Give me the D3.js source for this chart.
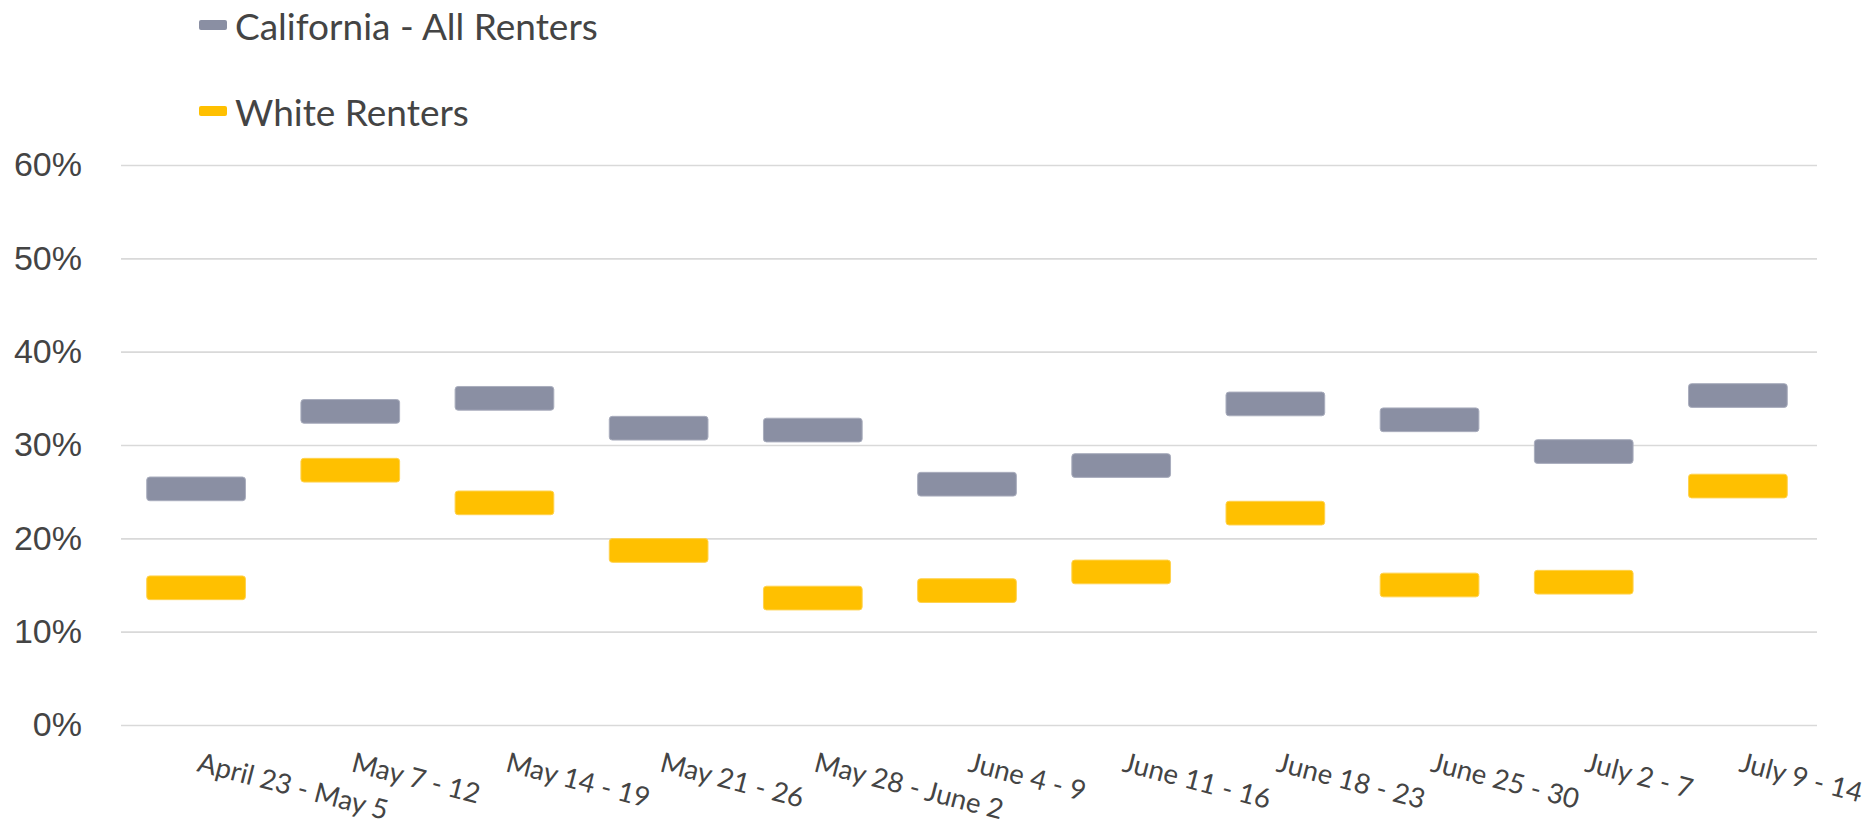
<!DOCTYPE html>
<html>
<head>
<meta charset="utf-8">
<script src="https://cdn.jsdelivr.net/npm/d3@7"></script>
<style>
  body { margin: 0; background: #fff; }
  svg { display: block; font-family: Lato, "Open Sans", sans-serif; }
</style>
</head>
<body>
<svg id="chart"></svg>
<script>
// Weeks (x categories)
const weeks = [
  "April 23 - May 5", "May 7 - 12", "May 14 - 19", "May 21 - 26", "May 28 - June 2",
  "June 4 - 9", "June 11 - 16", "June 18 - 23", "June 25 - 30", "July 2 - 7", "July 9 - 14"
];

// Series values (share of renters)
const allRenters = [0.253, 0.336, 0.350, 0.318, 0.316, 0.258, 0.278, 0.344, 0.327, 0.293, 0.353];
const whiteRenters = [0.147, 0.273, 0.238, 0.187, 0.136, 0.144, 0.164, 0.227, 0.150, 0.153, 0.256];

const yTicks = [0, 0.1, 0.2, 0.3, 0.4, 0.5, 0.6];

const series = [
  { name: "California - All Renters", values: allRenters, fill: "#8a8fa3", edge: "#a9adbd" },
  { name: "White Renters", values: whiteRenters, fill: "#ffc000", edge: "#ffd24d" }
];

const width = 1868, height = 826;
const margin = { top: 165, right: 51, bottom: 101, left: 121 };
const textColor = "#444";

const svg = d3.select("#chart")
  .attr("width", width)
  .attr("height", height);

const x = d3.scaleBand()
  .domain(weeks)
  .range([margin.left - 2, width - margin.right - 2]);

const y = d3.scaleLinear()
  .domain([0, 0.6])
  .range([height - margin.bottom, margin.top]);

//Gridlines + y labels
const yAxis = d3.axisLeft(y)
  .tickValues(yTicks)
  .tickFormat(d3.format(".0%"))
  .tickSize(-(width - margin.left - margin.right))
  .tickPadding(39);

svg.append("g")
  .attr("transform", `translate(${margin.left},0)`)
  .call(yAxis)
  .call(g => g.select(".domain").remove())
  .call(g => g.selectAll(".tick line")
    .attr("stroke", "#d9d9d9")
    .attr("stroke-width", 1.7))
  .call(g => g.selectAll(".tick text")
    .attr("fill", textColor)
    .style("font-size", "34px"));

//Floating bars, one thin box per value
const barW = 98.7, barH = 23.7;
series.forEach(s => {
  svg.append("g")
    .selectAll("rect")
    .data(s.values)
    .join("rect")
    .attr("x", (d, i) => x(weeks[i]) + x.bandwidth() / 2 - barW / 2)
    .attr("y", d => y(d) - barH / 2)
    .attr("width", barW)
    .attr("height", barH)
    .attr("rx", 3)
    .attr("fill", s.fill)
    .attr("stroke", s.edge)
    .attr("stroke-width", 1);
});

//X labels, rotated down to the right, starting at the band centre
svg.append("g")
  .selectAll("text")
  .data(weeks)
  .join("text")
  .attr("transform", d => `translate(${x(d) + x.bandwidth() / 2},771) rotate(14.5)`)
  .attr("fill", textColor)
  .style("font-size", "27.5px")
  .text(d => d);

//Legend
const legend = svg.append("g")
  .selectAll("g")
  .data(series)
  .join("g")
  .attr("transform", (d, i) => `translate(199,${25 + i * 86})`);

legend.append("rect")
  .attr("x", 0)
  .attr("y", -5)
  .attr("width", 28)
  .attr("height", 10)
  .attr("rx", 2)
  .attr("fill", d => d.fill);

legend.append("text")
  .attr("x", 36)
  .attr("y", 15)
  .attr("fill", textColor)
  .style("font-size", "37px")
  .text(d => d.name);
</script>
</body>
</html>
